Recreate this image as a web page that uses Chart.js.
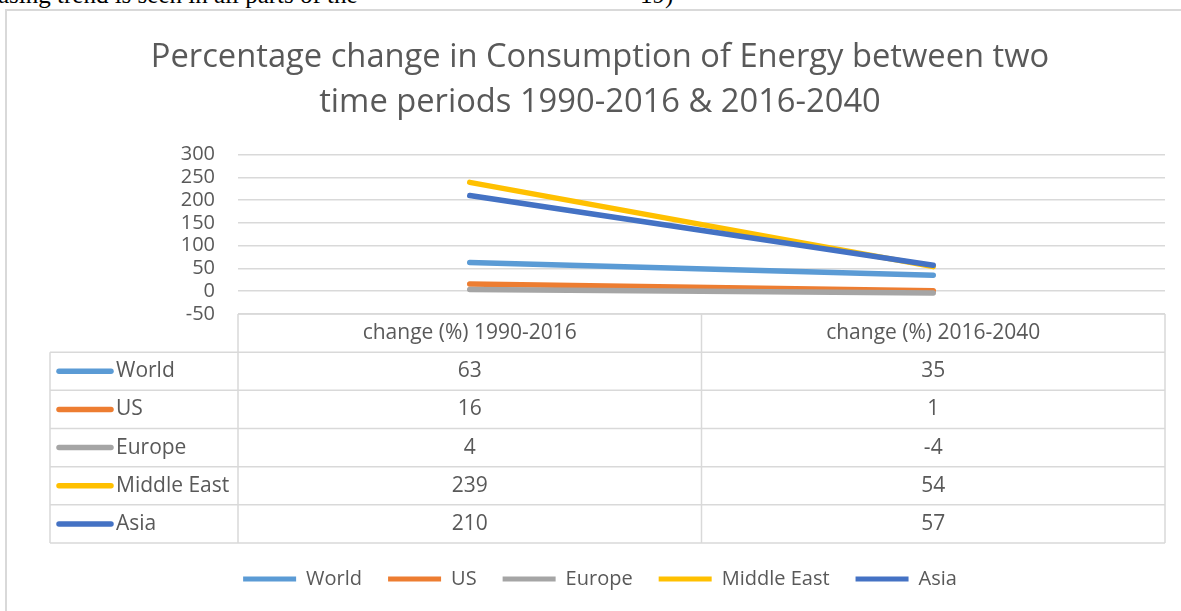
<!DOCTYPE html>
<html><head><meta charset="utf-8">
<script src="https://cdn.jsdelivr.net/npm/chart.js@4.4.1/dist/chart.umd.min.js"></script>
<style>
html,body{margin:0;padding:0;background:#fff;width:1181px;height:611px;overflow:hidden;}
#doc{position:absolute;left:-2px;top:-19px;font-family:"Liberation Serif",serif;font-size:25px;line-height:28px;color:#000;white-space:nowrap;}
#frame{position:absolute;left:5px;top:9px;width:1300px;height:700px;border-top:2px solid #d9d9d9;border-left:2px solid #d9d9d9;}
#wrap{position:absolute;left:0;top:0;width:1181px;height:611px;}
</style></head><body>
<div id="doc"><span>asing trend is seen in all parts of the</span><span style="position:absolute;left:642px">19)</span></div>
<div id="frame"></div>
<div id="wrap"><canvas id="c" width="1181" height="611"></canvas></div>
<script>
const categories = ['change (%) 1990-2016', 'change (%) 2016-2040'];
const seriesNames = ['World', 'US', 'Europe', 'Middle East', 'Asia'];
const world = [63, 35];
const us = [16, 1];
const europe = [4, -4];
const middleEast = [239, 54];
const asia = [210, 57];
const yMin = -50, yMax = 300, yStep = 50;
const titleLines = ['Percentage change in Consumption of Energy between two', 'time periods 1990-2016 & 2016-2040'];
const seriesColors = ['#5B9BD5', '#ED7D31', '#A5A5A5', '#FFC000', '#4472C4'];
const seriesValues = [world, us, europe, middleEast, asia];

const FONT = '"Open Sans", sans-serif';
const TXT = '#595959';
const GRID = '#d9d9d9';
const PAD_LEFT = 35;

const datasets = seriesNames.map((n, i) => ({
  label: n,
  data: seriesValues[i],
  borderColor: seriesColors[i],
  backgroundColor: seriesColors[i],
  borderWidth: 5.5,
  borderCapStyle: 'round',
  borderJoinStyle: 'round',
  pointRadius: 0,
  pointHoverRadius: 0,
  tension: 0,
  fill: false,
  order: seriesNames.length - 1 - i
}));

const tablePlugin = {
  id: 'dataTable',
  afterDraw(chart) {
    const { ctx, chartArea, scales } = chart;
    const x = scales.x;
    const top = chartArea.bottom;
    const rows = seriesNames.length + 1;
    const rowH = x.height / rows;
    const left = 50;
    const right = chartArea.right;
    const bottom = top + rowH * rows;
    const half = (x.getPixelForValue(1) - x.getPixelForValue(0)) / 2;
    ctx.save();
    ctx.strokeStyle = GRID;
    ctx.lineWidth = 1.5;
    ctx.beginPath();
    ctx.moveTo(chartArea.left, top); ctx.lineTo(right, top);
    for (let r = 1; r <= rows; r++) {
      const y = top + rowH * r;
      ctx.moveTo(left, y); ctx.lineTo(right, y);
    }
    ctx.moveTo(left, top + rowH); ctx.lineTo(left, bottom);
    ctx.moveTo(chartArea.left, top); ctx.lineTo(chartArea.left, bottom);
    for (let c = 0; c < categories.length; c++) {
      const xr = x.getPixelForValue(c) + half;
      ctx.moveTo(xr, top); ctx.lineTo(xr, bottom);
    }
    ctx.stroke();
    ctx.fillStyle = TXT;
    ctx.font = '21px ' + FONT;
    ctx.textAlign = 'center';
    ctx.textBaseline = 'middle';
    categories.forEach((c, i) => ctx.fillText(c, x.getPixelForValue(i), top + rowH / 2));
    seriesNames.forEach((n, r) => {
      const yc = top + rowH * (r + 1.5);
      ctx.textAlign = 'center';
      ctx.fillStyle = TXT;
      seriesValues[r].forEach((v, i) => ctx.fillText(String(v), x.getPixelForValue(i), yc));
      ctx.strokeStyle = seriesColors[r];
      ctx.lineWidth = 5.5;
      ctx.lineCap = 'round';
      ctx.beginPath();
      ctx.moveTo(left + 9, yc); ctx.lineTo(left + 61, yc);
      ctx.stroke();
      ctx.textAlign = 'left';
      ctx.fillText(n, left + 66, yc);
    });
    ctx.restore();
  }
};

new Chart(document.getElementById('c'), {
  type: 'line',
  data: { labels: categories, datasets },
  plugins: [tablePlugin],
  options: {
    responsive: false,
    animation: false,
    layout: { padding: { left: PAD_LEFT, right: 16, top: 0, bottom: 12 } },
    plugins: {
      tooltip: { enabled: false },
      title: {
        display: true,
        text: titleLines,
        color: TXT,
        font: { family: FONT, size: 32.7, weight: 'normal', lineHeight: 1.385 },
        padding: { top: 35, bottom: 29 }
      },
      legend: {
        display: true,
        position: 'bottom',
        labels: {
          color: TXT,
          font: { family: FONT, size: 20 },
          boxWidth: 53,
          boxHeight: 5,
          padding: 26,
          sort: (a, b) => a.datasetIndex - b.datasetIndex,
          generateLabels(chart) {
            return chart.data.datasets.map((d, i) => ({
              text: d.label,
              fillStyle: d.borderColor,
              strokeStyle: d.borderColor,
              lineWidth: 0,
              fontColor: TXT,
              hidden: false,
              datasetIndex: i
            }));
          }
        }
      }
    },
    scales: {
      x: {
        type: 'category',
        offset: true,
        position: 'bottom',
        grid: { display: false, drawTicks: false },
        border: { display: false },
        ticks: { display: false },
        afterFit(s) { s.height = 229; }
      },
      y: {
        min: yMin,
        max: yMax,
        position: 'left',
        border: { display: false },
        grid: { color: GRID, lineWidth: 1.5, drawTicks: false },
        ticks: { stepSize: yStep, autoSkip: false, color: TXT, font: { family: FONT, size: 20, lineHeight: 1 }, padding: 23 },
        afterFit(s) { s.width = 238 - PAD_LEFT; }
      }
    }
  }
});
</script>
</body></html>
